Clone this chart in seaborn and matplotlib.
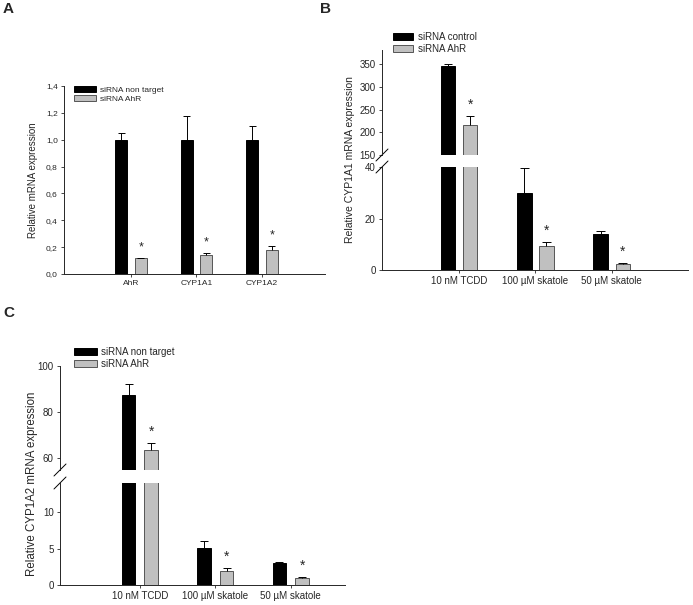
import numpy as np
import pandas as pd
import matplotlib
matplotlib.use("Agg")
import matplotlib.pyplot as plt
import seaborn as sns

# panel A: knockdown check
genes = ["AhR", "CYP1A1", "CYP1A2"]
a_ctrl = [1.0, 1.0, 1.0]
a_ctrl_err = [0.05, 0.18, 0.10]
a_sir = [0.12, 0.14, 0.18]
a_sir_err = [0.002, 0.02, 0.03]

# panels B and C: induced expression
treatments = ["10 nM TCDD", "100 µM skatole", "50 µM skatole"]
b_ctrl = [345, 30, 14]
b_ctrl_err = [6, 9.5, 1.0]
b_sir = [217, 9.5, 2.5]
b_sir_err = [19, 1.5, 0.2]

c_ctrl = [87.5, 5.1, 3.0]
c_ctrl_err = [4.5, 1.0, 0.2]
c_sir = [63.5, 1.9, 1.0]
c_sir_err = [3.0, 0.5, 0.05]

sns.set_style("ticks")
plt.rcParams["font.family"] = ["Liberation Sans", "DejaVu Sans"]
plt.rcParams["axes.linewidth"] = 0.7
plt.rcParams["xtick.major.width"] = 0.6
plt.rcParams["ytick.major.width"] = 0.6
plt.rcParams["xtick.major.size"] = 2.5
plt.rcParams["ytick.major.size"] = 2.5

BLACK = "#000000"
GREY = "#c0c0c0"


def make_df(cats, ctrl, ctrl_err, sir, sir_err, labels):
    rows = []
    for c, v, e in zip(cats, ctrl, ctrl_err):
        rows.append({"cat": c, "grp": labels[0], "val": v, "err": e})
    for c, v, e in zip(cats, sir, sir_err):
        rows.append({"cat": c, "grp": labels[1], "val": v, "err": e})
    return pd.DataFrame(rows)


def draw_bars(ax, df, labels, width, gap, fs):
    sns.barplot(data=df, x="cat", y="val", hue="grp", hue_order=labels,
                palette={labels[0]: BLACK, labels[1]: GREY},
                width=width, gap=gap, errorbar=None, legend=False, ax=ax,
                linewidth=0.7)
    edges = ["#000000", "#555555"]
    for cont, ec, lab in zip(ax.containers, edges, labels):
        sub = df[df["grp"] == lab]
        for p, v, e in zip(cont.patches, sub["val"], sub["err"]):
            p.set_edgecolor(ec)
            xc = p.get_x() + p.get_width() / 2
            hw = p.get_width() * 0.3
            ax.vlines(xc, v, v + e, color="black", lw=0.7)
            ax.hlines(v + e, xc - hw, xc + hw, color="black", lw=0.7)
            if lab == labels[1]:
                ax.annotate("*", (xc, v + e), xytext=(0, 3), textcoords="offset points",
                            ha="center", va="bottom", fontsize=fs + 3)
    ax.set_xlabel("")
    ax.set_ylabel("")
    ax.tick_params(labelsize=fs, pad=2)


def add_legend(ax, labels, anchor, fs, hl):
    handles = [plt.Rectangle((0, 0), 1, 1, facecolor=BLACK, edgecolor="#000000", lw=0.7),
               plt.Rectangle((0, 0), 1, 1, facecolor=GREY, edgecolor="#555555", lw=0.7)]
    ax.legend(handles, labels, loc="upper left", bbox_to_anchor=anchor, frameon=False,
              fontsize=fs, handlelength=hl, handleheight=0.7, handletextpad=0.5,
              labelspacing=0.2, borderaxespad=0, borderpad=0)


def break_marks(ax, where, fig):
    bb = ax.get_position()
    W, H = fig.get_size_inches() * fig.dpi
    dx = 6 / (bb.width * W)
    dy = 6 / (bb.height * H)
    y0 = 0 if where == "bottom" else 1
    ax.plot([-dx, dx], [y0 - dy, y0 + dy], transform=ax.transAxes, color="black",
            lw=0.7, clip_on=False)


fig = plt.figure(figsize=(6.93, 6.05), dpi=100)
W, H = 693, 605


def axes_px(left, right, top, bottom):
    return fig.add_axes([left / W, 1 - bottom / H, (right - left) / W, (bottom - top) / H])


# ---- panel A
axA = axes_px(64, 325, 86, 274)
labA = ["siRNA non target", "siRNA AhR"]
dfA = make_df(genes, a_ctrl, a_ctrl_err, a_sir, a_sir_err, labA)
draw_bars(axA, dfA, labA, 0.6, 0.4, 6)
axA.set_xlim(-1.02, 2.96)
axA.set_ylim(0, 1.4)
axA.set_yticks(np.arange(0, 1.41, 0.2))
axA.set_yticklabels([f"{t:.1f}".replace(".", ",") for t in np.arange(0, 1.41, 0.2)])
axA.set_ylabel("Relative mRNA expression", fontsize=7, labelpad=6)
sns.despine(ax=axA)
add_legend(axA, labA, (0.04, 1.0), 6, 2.6)

# ---- panel B (broken axis)
labB = ["siRNA control", "siRNA AhR"]
dfB = make_df(treatments, b_ctrl, b_ctrl_err, b_sir, b_sir_err, labB)
axBt = axes_px(382, 688, 50, 155)
axBb = axes_px(382, 688, 167, 270)
for ax in (axBt, axBb):
    draw_bars(ax, dfB, labB, 0.58, 0.35, 7)
    ax.set_xlim(-1.01, 3.0)
axBt.set_ylim(150, 381)
axBt.set_yticks([150, 200, 250, 300, 350])
axBb.set_ylim(0, 40)
axBb.set_yticks([0, 20, 40])
sns.despine(ax=axBb)
sns.despine(ax=axBt, bottom=True)
axBt.tick_params(axis="x", bottom=False, labelbottom=False)
break_marks(axBt, "bottom", fig)
break_marks(axBb, "top", fig)
add_legend(axBt, labB, (0.036, 1.17), 7, 2.1)
fig.text(350 / W, 1 - 160 / H, "Relative CYP1A1 mRNA expression", rotation=90,
         ha="center", va="center", fontsize=7.5)

# ---- panel C (broken axis)
labC = ["siRNA non target", "siRNA AhR"]
dfC = make_df(treatments, c_ctrl, c_ctrl_err, c_sir, c_sir_err, labC)
axCt = axes_px(60, 345, 366, 470)
axCb = axes_px(60, 345, 483, 585)
for ax in (axCt, axCb):
    draw_bars(ax, dfC, labC, 0.6, 0.4, 7)
    ax.set_xlim(-1.06, 2.72)
axCt.set_ylim(55, 100)
axCt.set_yticks([60, 80, 100])
axCb.set_ylim(0, 14)
axCb.set_yticks([0, 5, 10])
sns.despine(ax=axCb)
sns.despine(ax=axCt, bottom=True)
axCt.tick_params(axis="x", bottom=False, labelbottom=False)
break_marks(axCt, "bottom", fig)
break_marks(axCb, "top", fig)
add_legend(axCt, labC, (0.05, 1.18), 7, 2.3)
fig.text(32 / W, 1 - 484 / H, "Relative CYP1A2 mRNA expression", rotation=90,
         ha="center", va="center", fontsize=8.3)

# panel letters
for s, x, y in [("A", 3, 2), ("B", 320, 2), ("C", 3, 306)]:
    fig.text(x / W, 1 - y / H, s, fontsize=11, fontweight="bold", ha="left", va="top")

fig.savefig("out.png", dpi=100)
